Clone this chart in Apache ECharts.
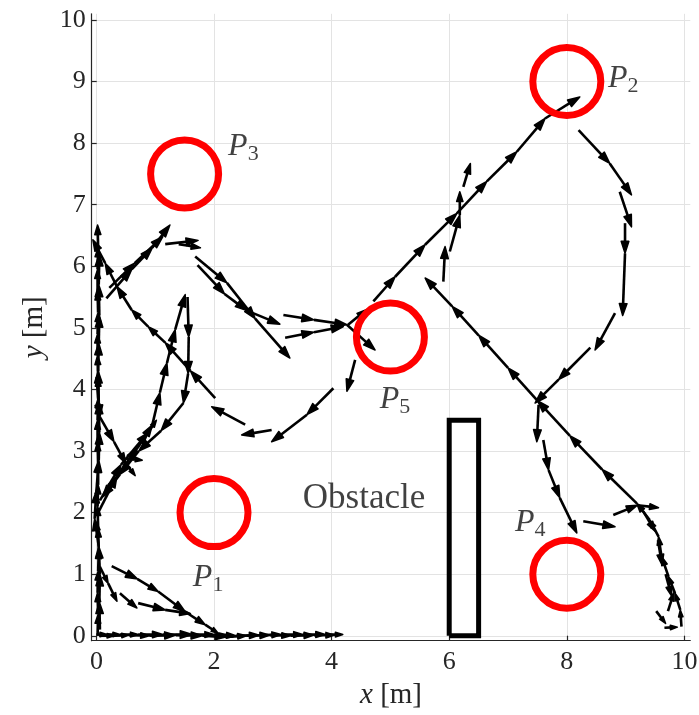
<!DOCTYPE html>
<html><head><meta charset="utf-8">
<script src="https://cdn.jsdelivr.net/npm/echarts@6/dist/echarts.min.js"></script>
<style>html,body{margin:0;padding:0;background:#fff}#c{width:699px;height:715px}</style>
</head><body><div id="c"></div>
<script>
// ---------- axis ticks ----------
const xTicks = [0, 2, 4, 6, 8, 10];
const yTicks = [0, 1, 2, 3, 4, 5, 6, 7, 8, 9, 10];

// ---------- waypoints (circles) ----------
const waypointSub = ['1', '2', '3', '4', '5'];
const waypointX = [2, 8, 1.5, 8, 5];
const waypointY = [2, 9, 7.5, 1, 4.85];
const labelX = [1.64, 8.70, 2.24, 7.12, 4.82];
const labelY = [0.94, 9.04, 7.94, 1.83, 3.83];

// ---------- obstacle ----------
const obstacleX = [6, 6.5, 6.5, 6, 6];
const obstacleY = [0, 0, 3.5, 3.5, 0];
const obstacleText = 'Obstacle';
const obstacleTextPos = [3.51, 2.23];

// ---------- trajectory paths (arrows between consecutive points) ----------
const pathBottom = [[0.0,0.02],[0.18,0.02],[0.4,0.02],[0.71,0.02],[1.13,0.02],[1.63,0.02],[2.0,0.02],[2.37,0.0],[2.77,0.01],[3.14,0.02],[3.51,0.02],[3.89,0.02],[4.19,0.02]];
const pathBottomB = [[0.05,0.0],[0.3,0.0],[0.55,0.01],[0.9,0.0],[1.35,0.01],[1.8,0.0],[2.2,-0.02],[2.55,0.0],[2.95,0.01],[3.3,0.0],[3.7,0.01],[4.05,0.01]];
const pathLeftA = [[0.02,0],[0.03,0.35],[0.02,0.7],[0.03,1.05],[0.04,1.4],[0.03,1.75],[0.02,2.1],[0.03,2.45],[0.03,2.8],[0.02,3.15],[0.02,3.5],[0.03,3.85],[0.03,4.2],[0.02,4.55],[0.02,4.9],[0.03,5.25],[0.02,5.6],[0.02,5.95],[0.03,6.3],[0.02,6.67]];
const pathLeftB = [[0.06,0.1],[0.05,0.55],[0.06,1.0],[0.04,1.45],[-0.03,1.9],[0.0,2.35],[0.04,2.85],[0.05,3.3],[0.04,3.8],[0.03,4.3],[0.04,4.75],[0.05,5.2],[0.04,5.7],[0.05,6.2]];
const pathDiag = [[2.02,3.86],[1.6,4.3],[1.17,4.76],[0.88,5.02],[0.6,5.29],[0.35,5.67],[0.15,6.05],[-0.06,6.43]];
const pathP5Down1 = [[4.4,4.48],[4.26,3.97]];
const pathP5Down2 = [[4.03,4.02],[3.58,3.59],[2.98,3.15]];
const pathP5Down3 = [[2.98,3.34],[2.47,3.26]];
const pathP5Down4 = [[2.53,3.43],[1.96,3.72]];
const pathLoopUp1 = [[0.17,5.48],[0.6,5.95],[0.95,6.3],[1.25,6.67]];
const pathLoopUp2 = [[0.22,5.65],[0.65,6.05],[1.13,6.48]];
const pathLoopTop1 = [[1.17,6.36],[1.73,6.42]];
const pathLoopTop2 = [[1.4,6.36],[1.77,6.3]];
const pathToP5a = [[1.68,6.16],[2.22,5.73],[2.7,5.15],[3.29,4.51]];
const pathToP5b = [[1.72,6.02],[2.18,5.55],[2.56,5.28],[3.12,5.06]];
const pathToP5c = [[3.18,5.21],[3.7,5.13],[4.26,5.05],[4.74,4.64]];
const pathToP5d = [[3.21,4.84],[3.7,4.93],[4.2,5.02]];
const pathToP2a = [[4.28,5.05],[4.6,5.3]];
const pathToP2b = [[4.71,5.43],[5.08,5.83],[5.59,6.35],[6.13,6.86],[6.64,7.38],[7.15,7.86],[7.63,8.4],[8.22,8.75]];
const pathLoopP2a = [[8.2,8.21],[8.73,7.67],[9.1,7.16]];
const pathLoopP2b = [[8.9,7.21],[9.1,6.64]];
const pathLoopP2c = [[8.99,6.7],[8.99,6.21],[8.95,5.2]];
const pathLoopP2d = [[8.82,5.24],[8.48,4.64]];
const pathLoopP2e = [[8.4,4.68],[7.86,4.16],[7.46,3.78]];
const pathToP4a = [[7.52,3.75],[7.49,3.15]];
const pathToP4b = [[7.6,3.18],[7.69,2.69],[7.88,2.24],[8.17,1.67]];
const pathP4Right1 = [[8.28,1.86],[8.82,1.77]];
const pathP4Right2 = [[8.79,1.96],[9.2,2.12],[9.56,2.08]];
const pathReturn = [[9.95,0.15],[9.93,0.42],[9.84,0.69],[9.73,0.96],[9.61,1.29],[9.56,1.61],[9.41,1.88],[9.19,2.15],[8.6,2.7],[8.05,3.25],[7.5,3.82],[7.0,4.35],[6.5,4.88],[6.05,5.35],[5.59,5.81]];
const pathRightDown1 = [[9.3,2.02],[9.5,1.7]];
const pathRightDown2 = [[9.55,1.55],[9.62,1.15]];
const pathRightDown3 = [[9.68,1.0],[9.78,0.65]];
const pathRightDown4 = [[9.52,0.4],[9.68,0.2]];
const pathRightDown5 = [[9.66,0.13],[9.88,0.14]];
const pathRightDown6 = [[9.72,0.4],[9.82,0.7]];
const pathUpMid1 = [[5.9,5.75],[5.93,6.32]];
const pathUpMid2 = [[6.01,6.24],[6.18,6.83],[6.18,7.21]];
const pathUpMid3 = [[6.24,7.29],[6.36,7.67]];
const pathLUp1 = [[0.03,2.0],[0.35,2.6],[0.7,3.05],[0.95,3.42],[1.08,3.95],[1.2,4.43],[1.34,4.97],[1.51,5.54]];
const pathLUp2 = [[0.06,2.2],[0.42,2.78],[0.88,3.3],[1.02,3.5]];
const pathLDown = [[1.55,5.5],[1.57,4.85],[1.56,4.26],[1.48,3.78],[1.1,3.33],[0.72,3.0],[0.4,2.62],[0.1,2.25]];
const pathLDiag2 = [[0.0,4.2],[0.06,3.55],[0.3,3.15],[0.5,2.8],[0.66,2.6]];
const pathLSmall = [[0.5,2.88],[0.78,2.85]];
const pathB1 = [[0.26,1.13],[0.7,0.92],[1.05,0.72],[1.51,0.39],[1.85,0.18],[2.07,0.04],[2.32,-0.02]];
const pathB2 = [[0.06,1.12],[0.2,0.85],[0.35,0.56]];
const pathB3 = [[0.4,0.69],[0.69,0.45]];
const pathB4 = [[0.71,0.53],[1.17,0.42],[1.6,0.36]];

const allPaths = [pathBottom, pathBottomB, pathLeftA, pathLeftB, pathDiag, pathP5Down1, pathP5Down2, pathP5Down3, pathP5Down4,
  pathLoopUp1, pathLoopUp2, pathLoopTop1, pathLoopTop2, pathToP5a, pathToP5b, pathToP5c, pathToP5d,
  pathToP2a, pathToP2b, pathLoopP2a, pathLoopP2b, pathLoopP2c, pathLoopP2d, pathLoopP2e,
  pathToP4a, pathToP4b, pathP4Right1, pathP4Right2, pathReturn,
  pathRightDown1, pathRightDown2, pathRightDown3, pathRightDown4, pathRightDown5, pathRightDown6,
  pathUpMid1, pathUpMid2, pathUpMid3, pathLUp1, pathLUp2, pathLDown, pathLDiag2, pathLSmall,
  pathB1, pathB2, pathB3, pathB4];

// build arrow table [x0, y0, x1, y1]
const arrows = [];
allPaths.forEach(p => { for (let i = 0; i + 1 < p.length; i++) arrows.push([p[i][0], p[i][1], p[i+1][0], p[i+1][1]]); });

const SERIF = "'Liberation Serif', 'DejaVu Serif', serif";
const AX = '#262626';

function renderArrow(params, api) {
  const p0 = api.coord([api.value(0), api.value(1)]);
  const p1 = api.coord([api.value(2), api.value(3)]);
  const dx = p1[0] - p0[0], dy = p1[1] - p0[1];
  const L = Math.hypot(dx, dy) || 1;
  const ux = dx / L, uy = dy / L;
  const h = Math.min(12, Math.max(7, 0.42 * L));
  const w = 0.32 * h;
  const bx = p1[0] - ux * h, by = p1[1] - uy * h;
  return {
    type: 'group',
    children: [
      { type: 'line', shape: { x1: p0[0], y1: p0[1], x2: bx + ux * 2, y2: by + uy * 2 }, style: { stroke: '#000', lineWidth: 2.6 } },
      { type: 'polygon', shape: { points: [[bx - uy * w, by + ux * w], p1, [bx + uy * w, by - ux * w]] }, style: { stroke: '#000', lineWidth: 1.5, fill: '#000', lineJoin: 'round' } }
    ]
  };
}

const chart = echarts.init(document.getElementById('c'), null, { renderer: 'canvas' });
chart.setOption({
  animation: false,
  backgroundColor: '#fff',
  grid: { left: 91.7, top: 13.8, width: 598.6, height: 626.9, containLabel: false, outerBoundsMode: 'none' },
  xAxis: {
    type: 'value', min: -0.08, max: 10.1,
    name: '{i|x} [m]', nameLocation: 'middle', nameGap: 40,
    nameTextStyle: { fontFamily: SERIF, fontSize: 29, color: AX, rich: { i: { fontFamily: SERIF, fontStyle: 'italic', fontSize: 29, color: AX } } },
    axisLine: { show: true, onZero: false, lineStyle: { color: AX, width: 1.2 } },
    axisTick: { show: true, inside: true, length: 5, customValues: xTicks, lineStyle: { color: AX, width: 1.2 } },
    axisLabel: { customValues: xTicks, fontFamily: SERIF, fontSize: 26, color: AX, margin: 8 },
    splitLine: { show: true, lineStyle: { color: '#e3e3e3', width: 1 } }
  },
  yAxis: {
    type: 'value', min: -0.08, max: 10.1,
    name: '{i|y} [m]', nameLocation: 'middle', nameGap: 39,
    nameTextStyle: { fontFamily: SERIF, fontSize: 29, color: AX, rich: { i: { fontFamily: SERIF, fontStyle: 'italic', fontSize: 29, color: AX } } },
    axisLine: { show: true, onZero: false, lineStyle: { color: AX, width: 1.2 } },
    axisTick: { show: true, inside: true, length: 5, customValues: yTicks, lineStyle: { color: AX, width: 1.2 } },
    axisLabel: { customValues: yTicks, fontFamily: SERIF, fontSize: 26, color: AX, margin: 6 },
    splitLine: { show: true, lineStyle: { color: '#e3e3e3', width: 1 } }
  },
  series: [
    {
      type: 'line', name: 'obstacle', z: 2, symbol: 'none', silent: true,
      data: obstacleX.map((x, i) => [x, obstacleY[i]]),
      lineStyle: { color: '#000', width: 5, join: 'miter' }
    },
    {
      type: 'custom', name: 'trajectory', z: 3, silent: true,
      renderItem: renderArrow,
      encode: { x: [0, 2], y: [1, 3] },
      data: arrows
    },
    {
      type: 'scatter', name: 'waypoints', z: 4, silent: true,
      symbol: 'circle', symbolSize: 68,
      itemStyle: { color: 'rgba(0,0,0,0)', borderColor: '#ff0000', borderWidth: 7, opacity: 1 },
      data: waypointX.map((x, i) => [x, waypointY[i]])
    },
    {
      type: 'scatter', name: 'labels', z: 5, silent: true, symbolSize: 0,
      data: labelX.map((x, i) => ({ value: [x, labelY[i]], sub: waypointSub[i] })),
      label: {
        show: true, position: 'right', distance: 0,
        formatter: p => '{p|P}{s|' + p.data.sub + '}',
        rich: {
          p: { fontFamily: SERIF, fontStyle: 'italic', fontSize: 32, lineHeight: 36, verticalAlign: 'middle', color: '#111' },
          s: { fontFamily: SERIF, fontSize: 22, lineHeight: 18, verticalAlign: 'bottom', color: '#111' }
        }
      }
    },
    {
      type: 'scatter', name: 'obstacleLabel', z: 5, silent: true, symbolSize: 0,
      data: [obstacleTextPos],
      label: { show: true, position: 'right', distance: 0, formatter: obstacleText, fontFamily: SERIF, fontSize: 35, color: '#111' }
    }
  ]
});
</script>
</body></html>
